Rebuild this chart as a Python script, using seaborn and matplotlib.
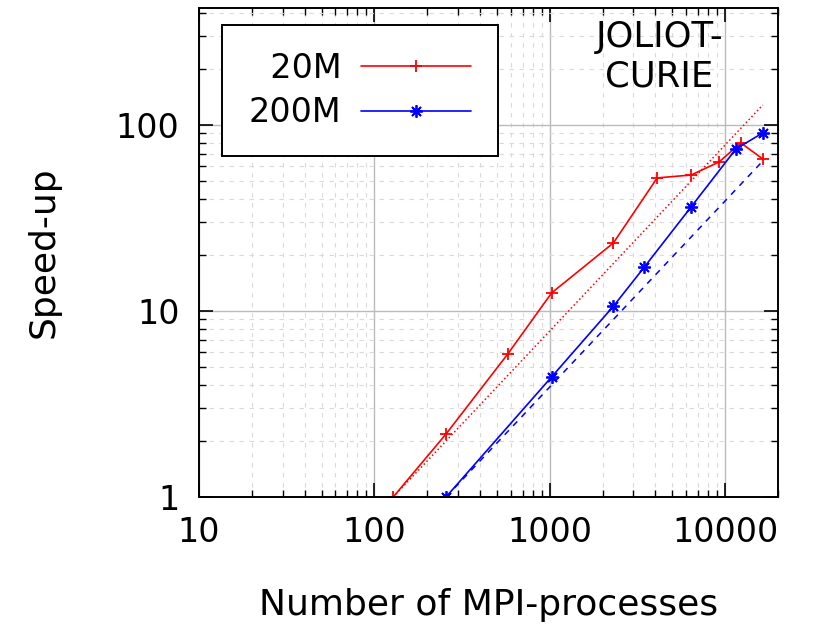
import matplotlib
matplotlib.use("Agg")
import matplotlib.pyplot as plt
import matplotlib.ticker as mticker
import seaborn as sns
import pandas as pd
import numpy as np

# data
procs_20m = [128, 256, 576, 1024, 2304, 4096, 6400, 9216, 12288, 16384]
speedup_20m = [1.0, 2.18, 5.87, 12.5, 23.2, 51.9, 53.8, 63.2, 80.0, 65.6]

procs_200m = [256, 1024, 2304, 3456, 6400, 11520, 16384]
speedup_200m = [1.0, 4.42, 10.6, 17.2, 36.3, 74.3, 90.6]

# ideal (linear) speed-up lines
ideal_20m_x = [128, 16384]
ideal_20m_y = [1.0, 128.0]
ideal_200m_x = [256, 16384]
ideal_200m_y = [1.0, 64.0]

df20 = pd.DataFrame({"procs": procs_20m, "speedup": speedup_20m})
df200 = pd.DataFrame({"procs": procs_200m, "speedup": speedup_200m})
di20 = pd.DataFrame({"procs": ideal_20m_x, "speedup": ideal_20m_y})
di200 = pd.DataFrame({"procs": ideal_200m_x, "speedup": ideal_200m_y})

sns.set_style("ticks")
plt.rcParams['font.family'] = ['DejaVu Sans']
plt.rcParams['text.color'] = 'black'
plt.rcParams['axes.labelcolor'] = 'black'
plt.rcParams['xtick.color'] = 'black'
plt.rcParams['ytick.color'] = 'black'

fig = plt.figure(figsize=(8.13, 6.26), dpi=100)
ax = fig.add_axes([199/813, 1-497/626, (778-199)/813, (497-8)/626])

sns.lineplot(data=di20, x="procs", y="speedup", color="red", linestyle=":",
             linewidth=1.1, ax=ax, legend=False)
sns.lineplot(data=di200, x="procs", y="speedup", color="blue", linestyle=(0, (4, 4)),
             linewidth=1.1, ax=ax, legend=False)
sns.lineplot(data=df20, x="procs", y="speedup", color="red", marker="+",
             markersize=9, markeredgewidth=1.3, markeredgecolor="red",
             linewidth=1.2, ax=ax, label="  20M")
sns.lineplot(data=df200, x="procs", y="speedup", color="blue", marker=(8, 2, 0),
             markersize=9, markeredgewidth=1.3, markeredgecolor="blue",
             linewidth=1.2, ax=ax, label="200M")

ax.set_xscale("log")
ax.set_yscale("log")
ax.set_xlim(10, 20000)
ax.set_ylim(1, 425)

ax.xaxis.set_major_locator(mticker.FixedLocator([10, 100, 1000, 10000]))
ax.xaxis.set_major_formatter(mticker.FixedFormatter(["10", "100", "1000", "10000"]))
ax.yaxis.set_major_locator(mticker.FixedLocator([1, 10, 100]))
ax.yaxis.set_major_formatter(mticker.FixedFormatter(["1", "10", "100"]))
ax.xaxis.set_minor_locator(mticker.LogLocator(base=10, subs=np.arange(2, 10)))
ax.yaxis.set_minor_locator(mticker.LogLocator(base=10, subs=np.arange(2, 10)))
ax.xaxis.set_minor_formatter(mticker.NullFormatter())
ax.yaxis.set_minor_formatter(mticker.NullFormatter())

ax.tick_params(which="both", direction="in", top=True, right=True,
               labelsize=24, color="black")
ax.tick_params(which="major", length=10, width=1.2, pad=14)
ax.tick_params(which="minor", length=5, width=1.0)

ax.grid(True, which="major", color="#bbbbbb", linewidth=1.0, linestyle="-")
ax.grid(True, which="minor", color="#dadada", linewidth=0.8, linestyle=(0, (4, 5)))
ax.set_axisbelow(True)

for s in ax.spines.values():
    s.set_color("black")
    s.set_linewidth(1.4)

ax.set_xlabel("Number of MPI-processes", fontsize=26, labelpad=28)
ax.set_ylabel("Speed-up", fontsize=26, labelpad=40)

leg = ax.legend(loc="upper left", bbox_to_anchor=(23/579, 1-17/489),
                borderaxespad=0, markerfirst=False, fancybox=False,
                edgecolor="black", framealpha=1, fontsize=24,
                handlelength=3.3, handletextpad=0.6, borderpad=0.8,
                labelspacing=0.35)
leg.get_frame().set_linewidth(1.4)

ax.text(0.795, 0.975, "JOLIOT-\nCURIE", transform=ax.transAxes, ha="center",
        va="top", fontsize=25.5, linespacing=1.2)

fig.savefig("out.png", dpi=100)
